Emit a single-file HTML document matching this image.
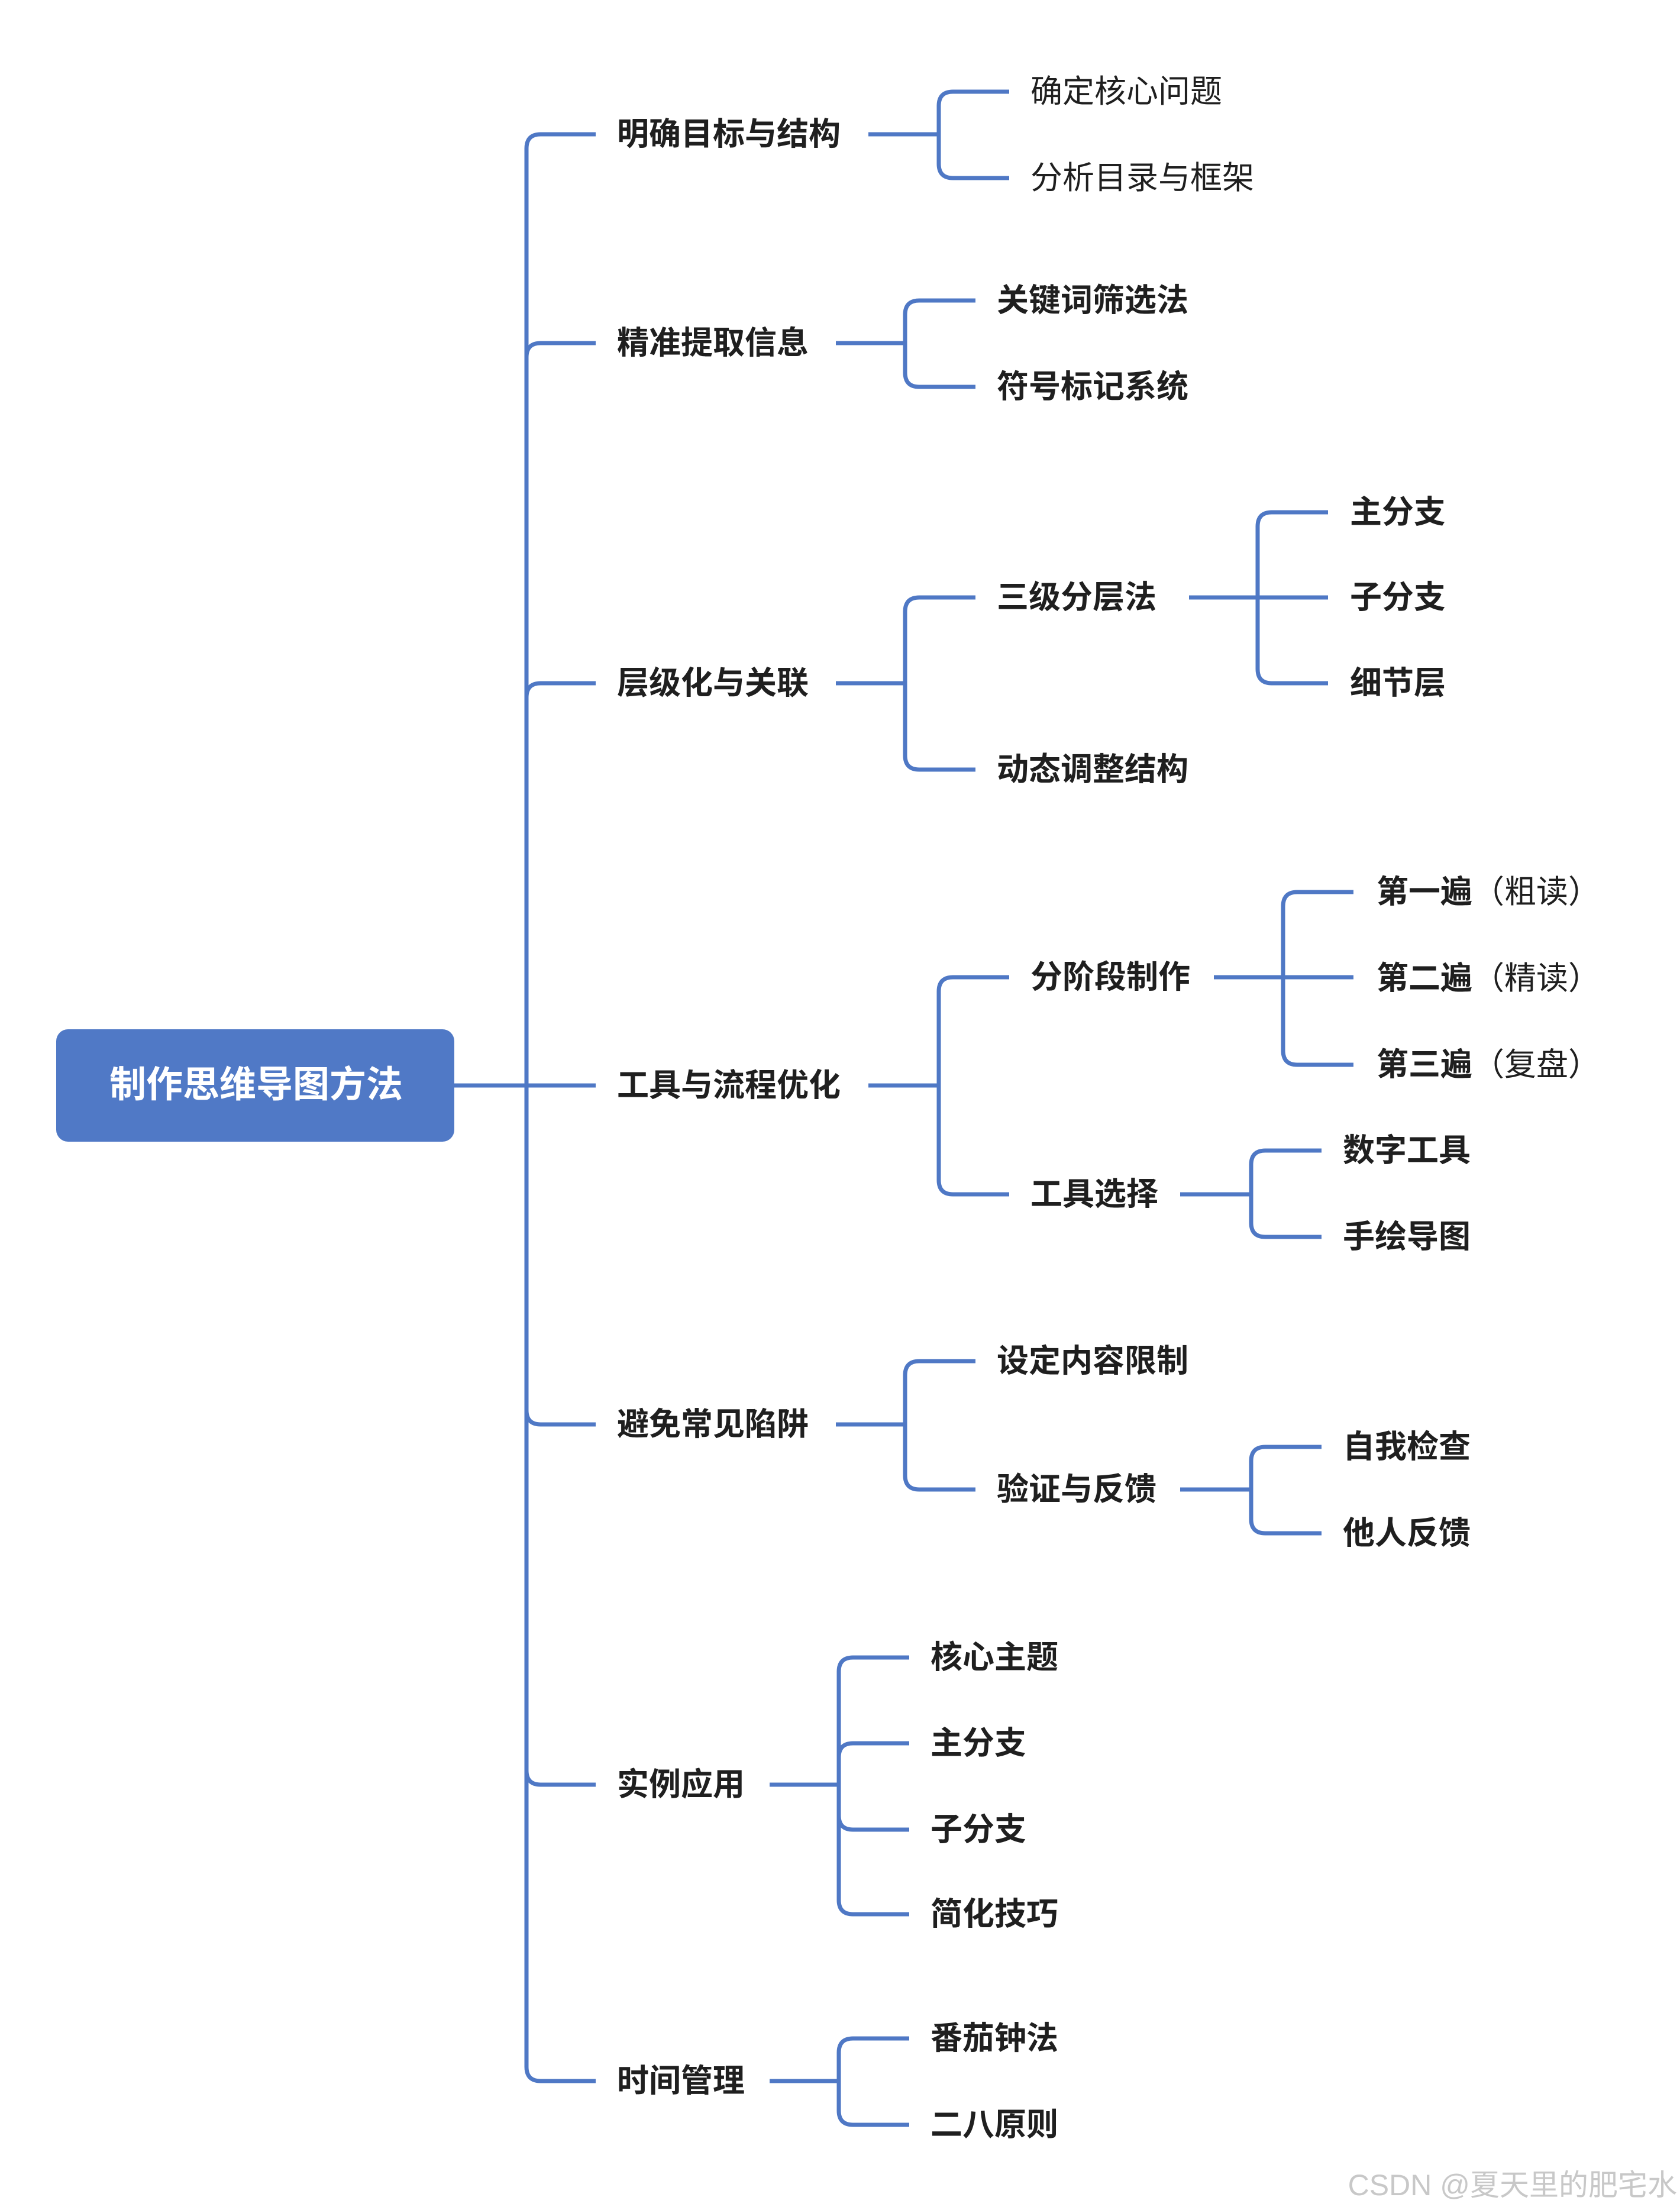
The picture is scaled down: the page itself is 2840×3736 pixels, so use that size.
<!DOCTYPE html>
<html><head><meta charset="utf-8"><style>
html,body{margin:0;padding:0;background:#fff}
svg{display:block}
text{font-family:"Liberation Sans","Noto Sans CJK SC",sans-serif;dominant-baseline:central;fill:#1f1f1f}
.b{font-weight:bold;font-size:54px}
.n{font-weight:normal;font-size:54px}
</style></head><body>
<svg width="2840" height="3736" viewBox="0 0 2840 3736" xmlns="http://www.w3.org/2000/svg">
<rect x="0" y="0" width="2840" height="3736" fill="#fff"/>
<g fill="none" stroke="#4f78c5" stroke-width="7" stroke-linecap="butt">
<path d="M890 1835 V251 Q890 227 914 227 H1007"/>
<path d="M890 1835 V604 Q890 580 914 580 H1007"/>
<path d="M890 1835 V1179 Q890 1155 914 1155 H1007"/>
<path d="M768 1835 H1007"/>
<path d="M890 1835 V2384 Q890 2408 914 2408 H1007"/>
<path d="M890 1835 V2993 Q890 3017 914 3017 H1007"/>
<path d="M890 1835 V3494 Q890 3518 914 3518 H1007"/>
<path d="M1468 227 H1587 V179 Q1587 155 1611 155 H1706"/>
<path d="M1587 227 V277 Q1587 301 1611 301 H1706"/>
<path d="M1413 580 H1530 V532 Q1530 508 1554 508 H1649"/>
<path d="M1530 580 V630 Q1530 654 1554 654 H1649"/>
<path d="M1413 1155 H1530 V1034 Q1530 1010 1554 1010 H1649"/>
<path d="M1530 1155 V1277 Q1530 1301 1554 1301 H1649"/>
<path d="M2010 1010 H2245"/>
<path d="M2126 1010 V890 Q2126 866 2150 866 H2245"/>
<path d="M2126 1010 V1131 Q2126 1155 2150 1155 H2245"/>
<path d="M1468 1835 H1587 V1676 Q1587 1652 1611 1652 H1706"/>
<path d="M1587 1835 V1995 Q1587 2019 1611 2019 H1706"/>
<path d="M2052 1652 H2288"/>
<path d="M2169 1652 V1532 Q2169 1508 2193 1508 H2288"/>
<path d="M2169 1652 V1776 Q2169 1800 2193 1800 H2288"/>
<path d="M1995 2019 H2115 V1969 Q2115 1945 2139 1945 H2234"/>
<path d="M2115 2019 V2067 Q2115 2091 2139 2091 H2234"/>
<path d="M1413 2408 H1530 V2325 Q1530 2301 1554 2301 H1649"/>
<path d="M1530 2408 V2494 Q1530 2518 1554 2518 H1649"/>
<path d="M1995 2518 H2115 V2470 Q2115 2446 2139 2446 H2234"/>
<path d="M2115 2518 V2568 Q2115 2592 2139 2592 H2234"/>
<path d="M1301 3017 H1418 V2826 Q1418 2802 1442 2802 H1537"/>
<path d="M1418 3017 V2971 Q1418 2947 1442 2947 H1537"/>
<path d="M1418 3017 V3069 Q1418 3093 1442 3093 H1537"/>
<path d="M1418 3017 V3212 Q1418 3236 1442 3236 H1537"/>
<path d="M1301 3518 H1418 V3470 Q1418 3446 1442 3446 H1537"/>
<path d="M1418 3518 V3568 Q1418 3592 1442 3592 H1537"/>
</g>
<rect x="95" y="1740" width="673" height="190" rx="20" fill="#5079c6"/>
<text x="433" y="1834" text-anchor="middle" style="fill:#fff;font-weight:bold;font-size:62px">制作思维导图方法</text>

<text class="b" x="1043" y="227">明确目标与结构</text>
<text class="b" x="1043" y="580">精准提取信息</text>
<text class="b" x="1043" y="1155">层级化与关联</text>
<text class="b" x="1043" y="1835">工具与流程优化</text>
<text class="b" x="1043" y="2408">避免常见陷阱</text>
<text class="b" x="1043" y="3017">实例应用</text>
<text class="b" x="1043" y="3518">时间管理</text>

<text class="n" x="1742" y="155">确定核心问题</text>
<text class="n" x="1742" y="301">分析目录与框架</text>
<text class="b" x="1685" y="508">关键词筛选法</text>
<text class="b" x="1685" y="654">符号标记系统</text>
<text class="b" x="1685" y="1010">三级分层法</text>
<text class="b" x="1685" y="1301">动态调整结构</text>
<text class="b" x="2282" y="866">主分支</text>
<text class="b" x="2282" y="1010">子分支</text>
<text class="b" x="2282" y="1155">细节层</text>
<text class="b" x="1742" y="1652">分阶段制作</text>
<text class="b" x="1742" y="2019">工具选择</text>
<text class="b" x="2327" y="1508">第一遍<tspan font-weight="normal">（粗读）</tspan></text>
<text class="b" x="2327" y="1654">第二遍<tspan font-weight="normal">（精读）</tspan></text>
<text class="b" x="2327" y="1800">第三遍<tspan font-weight="normal">（复盘）</tspan></text>
<text class="b" x="2270" y="1945">数字工具</text>
<text class="b" x="2270" y="2091">手绘导图</text>
<text class="b" x="1685" y="2301">设定内容限制</text>
<text class="b" x="1685" y="2518">验证与反馈</text>
<text class="b" x="2270" y="2446">自我检查</text>
<text class="b" x="2270" y="2592">他人反馈</text>
<text class="b" x="1573" y="2802">核心主题</text>
<text class="b" x="1573" y="2947">主分支</text>
<text class="b" x="1573" y="3093">子分支</text>
<text class="b" x="1573" y="3236">简化技巧</text>
<text class="b" x="1573" y="3446">番茄钟法</text>
<text class="b" x="1573" y="3592">二八原则</text>

<text x="2835" y="3694" text-anchor="end" style="fill:#c8c8c8;font-size:50px">CSDN @夏天里的肥宅水</text>
</svg>
</body></html>
